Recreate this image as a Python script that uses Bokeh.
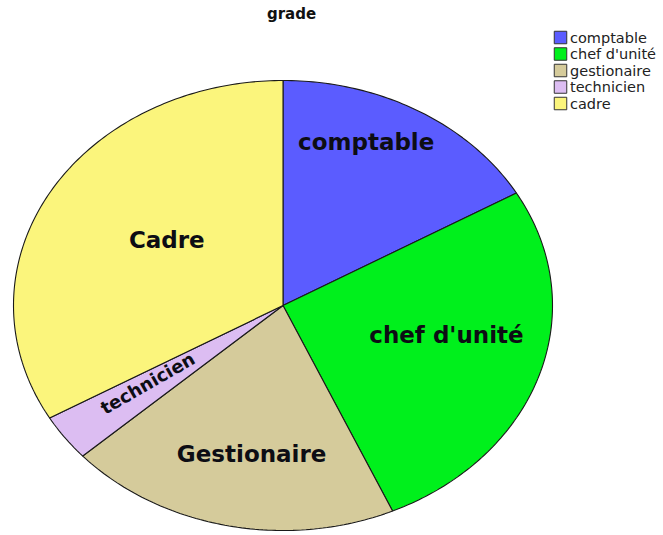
import math
from bokeh.plotting import figure
from bokeh.models import Range1d
from bokeh.core.properties import value
from bokeh.embed import file_html
from bokeh.resources import INLINE

# ---- data ----
categories = ["comptable", "chef d'unité", "gestionaire", "technicien", "cadre"]
slice_labels = ["comptable", "chef d'unité", "Gestionaire", "technicien", "Cadre"]
counts = [5, 8, 6, 1, 10]
colors = ["#5b5cff", "#00f01c", "#d5cb9b", "#dcbdf2", "#fbf57c"]

# ---- layout (picture pixels) ----
W, H = 663, 535
OFF = 0.0
CX, CY, RX, RY = 282.5, 305.0, 269.5, 225.0
label_r = [0.79, 0.62, 0.67, 0.61, 0.52]
label_dtheta = [-7, -6, -2, 1.5, 4]
label_size = ["23px", "23px", "23px", "18px", "23px"]
rotate_label = [False, False, False, True, False]

x0 = -(CX - OFF) / RX
x1 = x0 + W / RX
y1 = (CY - OFF) / RY
y0 = y1 - H / RY


def page_to_data(px, py):
    return (px - CX) / RX, (CY - py) / RY


p = figure(width=W, height=H, output_backend="svg", toolbar_location=None,
           x_range=Range1d(x0, x1), y_range=Range1d(y0, y1),
           min_border=0, outline_line_color=None)
p.axis.visible = False
p.grid.visible = False
p.background_fill_color = "white"
p.border_fill_color = "white"

total = float(sum(counts))
xs, ys = [], []
starts = []
acc = 0.0
for c in counts:
    a0 = acc / total * 2 * math.pi
    a1 = (acc + c) / total * 2 * math.pi
    starts.append((a0, a1))
    n = max(4, int((a1 - a0) / (2 * math.pi) * 400))
    px = [0.0]
    py = [0.0]
    for i in range(n + 1):
        t = a0 + (a1 - a0) * i / n
        px.append(math.sin(t))
        py.append(math.cos(t))
    xs.append(px)
    ys.append(py)
    acc += c

p.patches(xs, ys, fill_color=colors, line_color="#1a1a1a", line_width=1.1)

# slice labels
for i, (a0, a1) in enumerate(starts):
    mid = (a0 + a1) / 2 + math.radians(label_dtheta[i])
    lx = label_r[i] * math.sin(mid)
    ly = label_r[i] * math.cos(mid)
    ang = 0.0
    if rotate_label[i]:
        ang = math.atan2(math.cos(mid) * RY, math.sin(mid) * RX)
        if ang < -math.pi / 2:
            ang += math.pi
        elif ang > math.pi / 2:
            ang -= math.pi
    p.text([lx], [ly], text=[slice_labels[i]], angle=ang,
           text_font=value("DejaVu Sans"), text_font_style="bold",
           text_font_size=label_size[i], text_color="#0d0d14",
           text_align="center", text_baseline="middle")

# title
tx, ty = page_to_data(291, 13)
p.text([tx], [ty], text=["grade"], text_font=value("DejaVu Sans"),
       text_font_style="bold", text_font_size="15px", text_color="#111111",
       text_align="center", text_baseline="middle")

# legend
bx, bw = 560.0, 12.5
for i, cat in enumerate(categories):
    rowy = 37.0 + 16.5 * i
    rx, ry = page_to_data(bx, rowy)
    p.rect([rx], [ry], width=bw / RX, height=bw / RY, fill_color=colors[i],
           line_color="#333333", line_width=1)
    lx, ly = page_to_data(bx + 9.5, rowy)
    p.text([lx], [ly], text=[cat], text_font=value("DejaVu Sans"),
           text_font_size="14.5px", text_color="#222222",
           text_align="left", text_baseline="middle")

open("out.html", "w").write(file_html(p, INLINE))
